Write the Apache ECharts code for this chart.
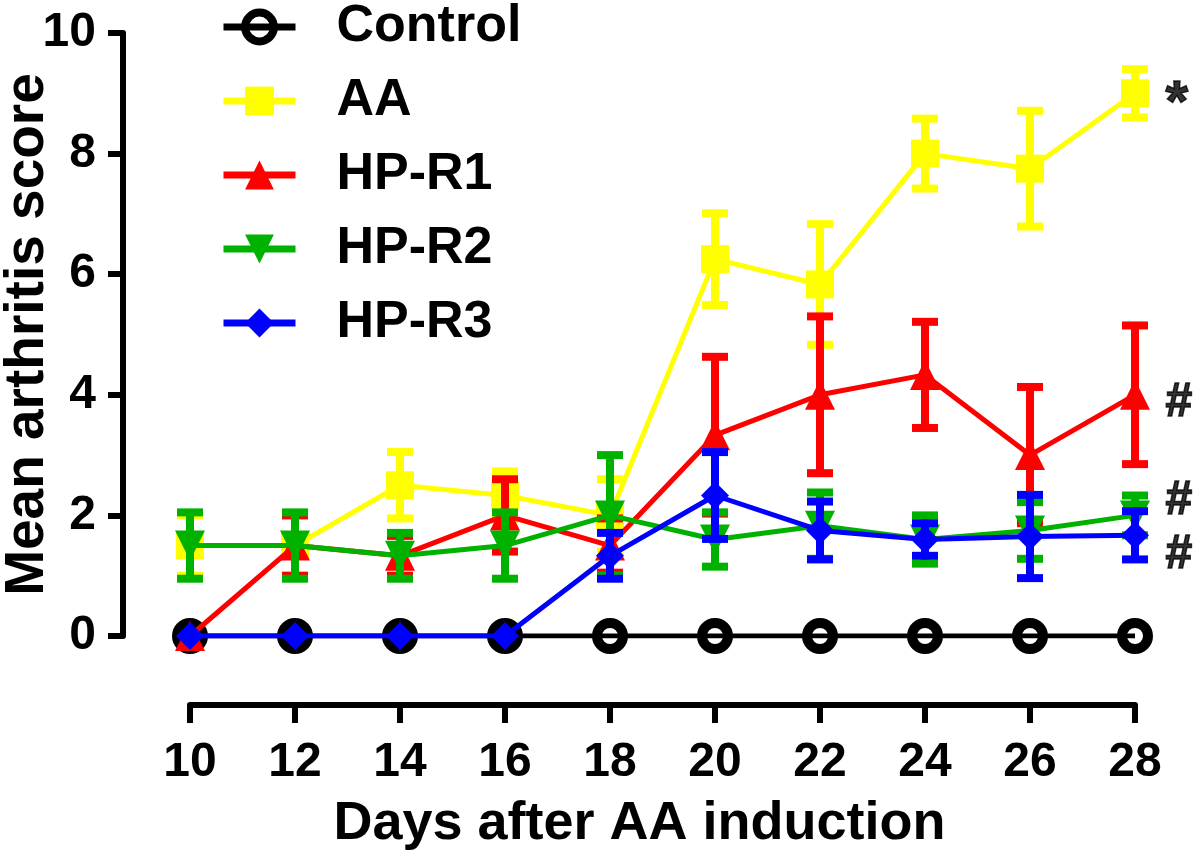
<!DOCTYPE html>
<html>
<head>
<meta charset="utf-8">
<script src="https://cdn.jsdelivr.net/npm/echarts@6/dist/echarts.min.js"></script>
<style>
  html, body { margin: 0; padding: 0; background: #fff; }
  #chart { width: 1200px; height: 862px; }
</style>
</head>
<body>
<div id="chart"></div>
<script>
const days = [10, 12, 14, 16, 18, 20, 22, 24, 26, 28]

const controlMean = [0, 0, 0, 0, 0, 0, 0, 0, 0, 0]
const controlSem = [0, 0, 0, 0, 0, 0, 0, 0, 0, 0]

const aaMean = [1.5, 1.5, 2.5, 2.33, 2.0, 6.25, 5.83, 8.0, 7.75, 9.0]
const aaSem = [0.5, 0.5, 0.55, 0.4, 0.6, 0.76, 1.0, 0.58, 0.96, 0.4]

const r1Mean = [0, 1.5, 1.33, 2.0, 1.5, 3.33, 4.0, 4.33, 3.0, 4.0]
const r1Sem = [0, 0.5, 0.33, 0.6, 0.45, 1.3, 1.3, 0.88, 1.13, 1.15]

const r2Mean = [1.5, 1.5, 1.33, 1.5, 2.0, 1.6, 1.83, 1.6, 1.75, 2.0]
const r2Sem = [0.55, 0.55, 0.38, 0.55, 1.0, 0.45, 0.55, 0.4, 0.47, 0.33]

const r3Mean = [0, 0, 0, 0, 1.33, 2.33, 1.75, 1.6, 1.65, 1.67]
const r3Sem = [0, 0, 0, 0, 0.38, 0.72, 0.48, 0.27, 0.69, 0.4]

// significance marks next to the last point
const annotY = [8.8, 3.87, 2.25, 1.35]
const annotText = ['*', '#', '#', '#']

const groups = [
  { name: 'Control', mean: controlMean, sem: controlSem, color: '#000000', symbol: 'circle', size: 26, rotate: 0, hollow: true },
  { name: 'AA', mean: aaMean, sem: aaSem, color: '#FFFF00', symbol: 'rect', size: 28, rotate: 0 },
  { name: 'HP-R1', mean: r1Mean, sem: r1Sem, color: '#FF0000', symbol: 'triangle', size: 30, rotate: 0 },
  { name: 'HP-R2', mean: r2Mean, sem: r2Sem, color: '#00B200', symbol: 'triangle', size: 30, rotate: 180 },
  { name: 'HP-R3', mean: r3Mean, sem: r3Sem, color: '#0000FF', symbol: 'diamond', size: 28, rotate: 0 }
]

const font = 'Liberation Sans, Arial, sans-serif'

// vertical bar with caps from low to high
function errorBar(color) {
  return function (params, api) {
    const x = api.value(0)
    const lo = api.coord([x, api.value(1)])
    const hi = api.coord([x, api.value(2)])
    if (Math.abs(lo[1] - hi[1]) < 1) return null
    const hw = 13
    const style = { stroke: color, lineWidth: 8 }
    return {
      type: 'group',
      children: [
        { type: 'line', shape: { x1: lo[0], y1: lo[1], x2: hi[0], y2: hi[1] }, style: style },
        { type: 'line', shape: { x1: lo[0] - hw, y1: lo[1], x2: lo[0] + hw, y2: lo[1] }, style: style },
        { type: 'line', shape: { x1: hi[0] - hw, y1: hi[1], x2: hi[0] + hw, y2: hi[1] }, style: style }
      ]
    }
  }
}

const series = []
groups.forEach((g, i) => {
  series.push({
    name: g.name + ' err',
    type: 'custom',
    z: 2 + i * 2,
    renderItem: errorBar(g.color),
    encode: { x: 0, y: [1, 2] },
    data: days.map((d, j) => [d, g.mean[j] - g.sem[j], g.mean[j] + g.sem[j]]),
    silent: true
  })
  series.push({
    name: g.name,
    type: 'line',
    z: 3 + i * 2,
    data: days.map((d, j) => [d, g.mean[j]]),
    symbol: g.symbol,
    symbolSize: g.size,
    symbolRotate: g.rotate,
    showAllSymbol: true,
    lineStyle: { color: g.color, width: 5 },
    itemStyle: g.hollow
      ? { color: 'rgba(255,255,255,0)', borderColor: g.color, borderWidth: 10 }
      : { color: g.color, borderWidth: 0 },
    emphasis: { disabled: true },
    animation: false
  })
})

series.push({
  name: 'annot',
  type: 'scatter',
  z: 20,
  symbolSize: 1,
  itemStyle: { color: 'rgba(0,0,0,0)' },
  data: annotY.map((y, i) => ({
    value: [28, y],
    label: {
      show: true,
      position: 'right',
      distance: 30,
      formatter: annotText[i],
      color: '#000',
      textBorderColor: '#000',
      textBorderWidth: 1.5,
      fontSize: i === 0 ? 58 : 48,
      fontWeight: 'bold',
      fontFamily: font
    }
  }))
})

const chart = echarts.init(document.getElementById('chart'))

chart.setOption({
  animation: false,
  backgroundColor: '#ffffff',
  legend: {
    data: groups.map(g => g.hollow
      ? { name: g.name, itemStyle: { color: 'rgba(255,255,255,0)', borderColor: g.color, borderWidth: 8 } }
      : { name: g.name }),
    orient: 'vertical',
    left: 215,
    top: -4,
    itemWidth: 72,
    itemHeight: 36,
    itemGap: 22,
    selectedMode: false,
    lineStyle: { width: 7 },
    textStyle: {
      fontSize: 52,
      fontWeight: 'bold',
      fontFamily: font,
      color: '#000',
      padding: [0, 0, 0, 36]
    }
  },
  grid: { left: 190, right: 65, top: 33, bottom: 226, containLabel: false, outerBoundsMode: 'none' },
  xAxis: {
    type: 'value',
    min: 10,
    max: 28,
    interval: 2,
    position: 'bottom',
    offset: 69,
    name: 'Days after AA induction',
    nameLocation: 'middle',
    nameGap: 92,
    nameTextStyle: { fontSize: 54, fontWeight: 'bold', fontFamily: font, color: '#000', padding: [0, 46, 0, 0] },
    axisLine: { onZero: false, lineStyle: { color: '#000', width: 6 } },
    axisTick: { show: true, inside: false, length: 18, lineStyle: { color: '#000', width: 6 } },
    axisLabel: { fontSize: 48, fontWeight: 'bold', fontFamily: font, color: '#000', margin: 34 },
    splitLine: { show: false }
  },
  yAxis: {
    type: 'value',
    min: 0,
    max: 10,
    interval: 2,
    offset: 67,
    name: 'Mean arthritis score',
    nameLocation: 'middle',
    nameGap: 68,
    nameMoveOverlap: false,
    nameTextStyle: { fontSize: 55, fontWeight: 'bold', fontFamily: font, color: '#000' },
    axisLine: { show: true, lineStyle: { color: '#000', width: 6 } },
    axisTick: { show: true, inside: false, length: 15, lineStyle: { color: '#000', width: 6 } },
    axisLabel: { fontSize: 48, fontWeight: 'bold', fontFamily: font, color: '#000', margin: 27 },
    splitLine: { show: false }
  },
  series: series
})
</script>
</body>
</html>
